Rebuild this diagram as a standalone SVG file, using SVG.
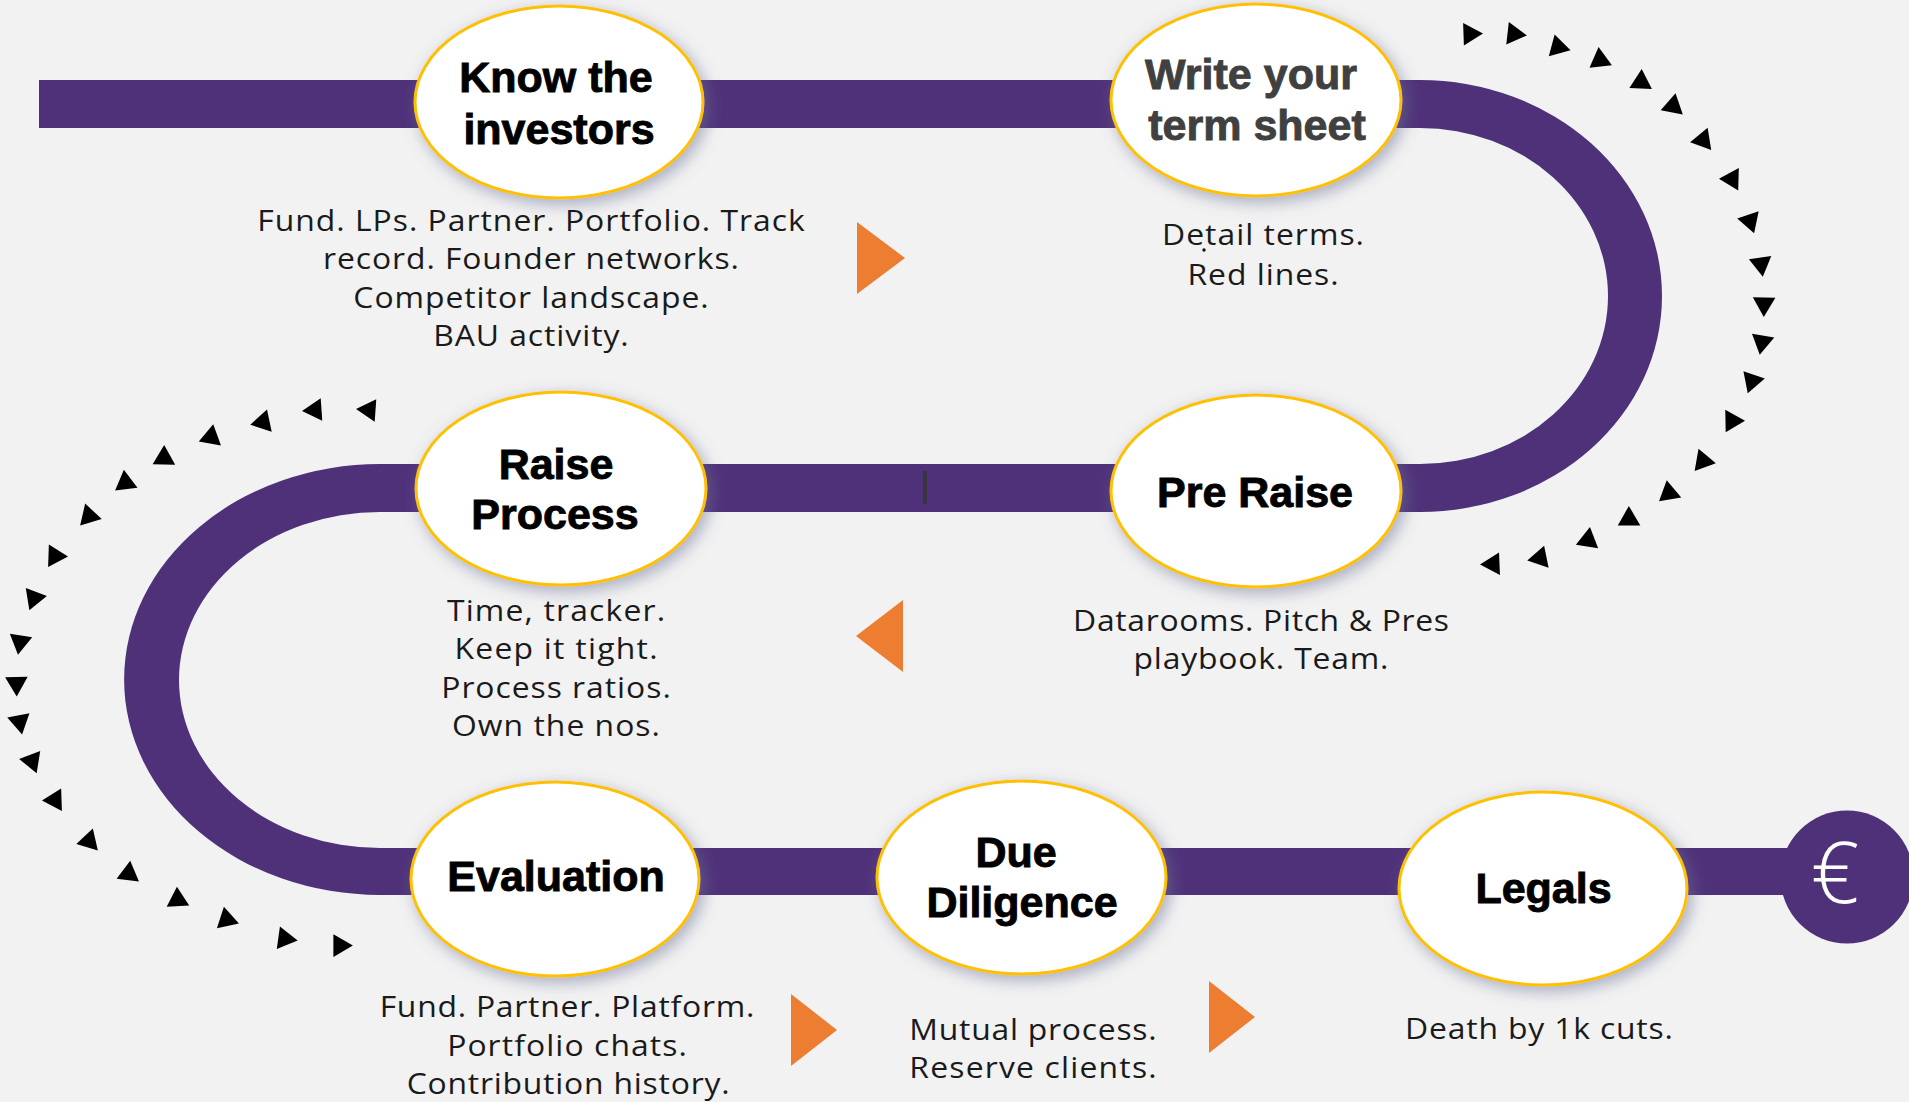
<svg xmlns="http://www.w3.org/2000/svg" xmlns:xlink="http://www.w3.org/1999/xlink" width="1909" height="1102" viewBox="0 0 1909 1102">
<defs>
<style>
.bar{fill:#4F3179}
.node{fill:#FFFFFF;stroke:#FFC000;stroke-width:3}
.h{font-family:"Liberation Sans",Arial,sans-serif;font-weight:bold;font-size:43px;fill:#000;stroke:#000;stroke-width:0.9;text-anchor:middle}
.d{font-family:"Open Sans","Liberation Sans",sans-serif;font-weight:400;font-size:29.5px;fill:#1a1a1a;text-anchor:middle}
.orange{fill:#ED7D31}
.arr{fill:#000}
</style>
<filter id="glow" x="-30%" y="-30%" width="160%" height="160%">
<feGaussianBlur in="SourceAlpha" stdDeviation="8"/>
<feOffset dx="4" dy="5" result="b"/>
<feFlood flood-color="#6C7396" flood-opacity="0.55"/>
<feComposite in2="b" operator="in"/>
<feMerge><feMergeNode/><feMergeNode in="SourceGraphic"/></feMerge>
</filter>
<path id="tri" d="M13,0 L-6.5,11.3 L-6.5,-11.3 Z"/>
</defs>
<rect x="0" y="0" width="1909" height="1102" fill="#F2F2F2"/>

<g id="connectors">
<rect class="bar" x="39" y="80" width="1382" height="48"/>
<path class="bar" d="M1420,80 A242,216 0 0 1 1420,512 L1420,464 A188,168 0 0 0 1420,128 Z"/>
<rect class="bar" x="379" y="464" width="1042" height="48"/>
<path class="bar" d="M380,464 A256,215.5 0 0 0 380,895 L380,848 A201,168 0 0 1 380,512 Z"/>
<rect class="bar" x="379" y="848" width="1467" height="47"/>
<rect x="923" y="471" width="4" height="33" fill="#333" opacity="0.8"/>
<g class="arr">
<use href="#tri" transform="translate(1470,34) rotate(-2)"/>
<use href="#tri" transform="translate(1514,34) rotate(6.5)"/>
<use href="#tri" transform="translate(1558,47) rotate(15)"/>
<use href="#tri" transform="translate(1600,60) rotate(23.6)"/>
<use href="#tri" transform="translate(1641,82) rotate(33)"/>
<use href="#tri" transform="translate(1673,106) rotate(41)"/>
<use href="#tri" transform="translate(1703,140) rotate(50.7)"/>
<use href="#tri" transform="translate(1732,179) rotate(61.4)"/>
<use href="#tri" transform="translate(1750,221) rotate(71.6)"/>
<use href="#tri" transform="translate(1761,264) rotate(82)"/>
<use href="#tri" transform="translate(1764,304) rotate(91)"/>
<use href="#tri" transform="translate(1762,342) rotate(100)"/>
<use href="#tri" transform="translate(1752,381) rotate(109)"/>
<use href="#tri" transform="translate(1732,421) rotate(119)"/>
<use href="#tri" transform="translate(1703,461) rotate(130)"/>
<use href="#tri" transform="translate(1669,493) rotate(140)"/>
<use href="#tri" transform="translate(1629,519) rotate(149.5)"/>
<use href="#tri" transform="translate(1588,540) rotate(158.7)"/>
<use href="#tri" transform="translate(1540,558) rotate(168.6)"/>
<use href="#tri" transform="translate(1493,564) rotate(177.6)"/>

<use href="#tri" transform="translate(369,410) rotate(184)"/>
<use href="#tri" transform="translate(315,410) rotate(176)"/>
<use href="#tri" transform="translate(263,422) rotate(168)"/>
<use href="#tri" transform="translate(211,437) rotate(160)"/>
<use href="#tri" transform="translate(164,458) rotate(151)"/>
<use href="#tri" transform="translate(125.5,482.6) rotate(143)"/>
<use href="#tri" transform="translate(89,516) rotate(133)"/>
<use href="#tri" transform="translate(55,556) rotate(122)"/>
<use href="#tri" transform="translate(34,598) rotate(111)"/>
<use href="#tri" transform="translate(20,642) rotate(99)"/>
<use href="#tri" transform="translate(16.5,683.5) rotate(89)"/>
<use href="#tri" transform="translate(19.6,721.7) rotate(79)"/>
<use href="#tri" transform="translate(32,761) rotate(69)"/>
<use href="#tri" transform="translate(55,800) rotate(58)"/>
<use href="#tri" transform="translate(89,841) rotate(47)"/>
<use href="#tri" transform="translate(128.6,873.7) rotate(37)"/>
<use href="#tri" transform="translate(177.6,899.7) rotate(27)"/>
<use href="#tri" transform="translate(226.6,919.6) rotate(18)"/>
<use href="#tri" transform="translate(284.8,938.7) rotate(8)"/>
<use href="#tri" transform="translate(339.9,945.6) rotate(0)"/>
</g>
<g class="orange">
<polygon points="857,222 905,258 857,294"/>
<polygon points="903,600 856,636 903,672"/>
<polygon points="791,994 837,1030 791,1066"/>
<polygon points="1209,981 1255,1017 1209,1053"/>
</g>
</g>

<g id="node-know">
<ellipse class="node" filter="url(#glow)" cx="559" cy="102" rx="144" ry="96"/>
<text class="h" x="556" y="92">Know the</text>
<text class="h" x="559" y="144">investors</text>
<g class="d" transform="translate(531,0) scale(1.08,1)">
<text x="0" y="231" textLength="507" lengthAdjust="spacing">Fund. LPs. Partner. Portfolio. Track</text>
<text x="0" y="269.5" textLength="385" lengthAdjust="spacing">record. Founder networks.</text>
<text x="0" y="308" textLength="329" lengthAdjust="spacing">Competitor landscape.</text>
<text x="0" y="346" textLength="181" lengthAdjust="spacing">BAU activity.</text>
</g>
</g>

<g id="node-term">
<ellipse class="node" filter="url(#glow)" cx="1256" cy="100" rx="145" ry="96"/>
<text class="h" x="1251" y="89" style="fill:#404040;stroke:#404040">Write your</text>
<text class="h" x="1257" y="140" style="fill:#404040;stroke:#404040">term sheet</text>
<g class="d" transform="translate(1263,0) scale(1.08,1)">
<text x="0" y="245" textLength="187" lengthAdjust="spacing">Detail terms.</text>
<text x="0" y="285" textLength="140" lengthAdjust="spacing">Red lines.</text>
</g>
<circle cx="1204" cy="250" r="1.7" fill="#111"/>
</g>

<g id="node-preraise">
<ellipse class="node" filter="url(#glow)" cx="1256" cy="491" rx="145" ry="96"/>
<text class="h" x="1255" y="507">Pre Raise</text>
<g class="d" transform="translate(1261,0) scale(1.08,1)">
<text x="0" y="631" textLength="348" lengthAdjust="spacing">Datarooms. Pitch &amp; Pres</text>
<text x="0" y="669" textLength="236" lengthAdjust="spacing">playbook. Team.</text>
</g>
</g>

<g id="node-raise">
<ellipse class="node" filter="url(#glow)" cx="561" cy="488.5" rx="145" ry="96.5"/>
<text class="h" x="556" y="479">Raise</text>
<text class="h" x="555" y="528.5">Process</text>
<g class="d" transform="translate(556,0) scale(1.08,1)">
<text x="0" y="621.5" textLength="202" lengthAdjust="spacing">Time, tracker.</text>
<text x="0" y="659.5" textLength="188" lengthAdjust="spacing">Keep it tight.</text>
<text x="0" y="698" textLength="212.5" lengthAdjust="spacing">Process ratios.</text>
<text x="0" y="736" textLength="192.5" lengthAdjust="spacing">Own the nos.</text>
</g>
</g>

<g id="node-evaluation">
<ellipse class="node" filter="url(#glow)" cx="555" cy="879" rx="144" ry="97"/>
<text class="h" x="556" y="891">Evaluation</text>
<g class="d" transform="translate(567,0) scale(1.08,1)">
<text x="0" y="1017" textLength="347" lengthAdjust="spacing">Fund. Partner. Platform.</text>
<text x="0" y="1056" textLength="222" lengthAdjust="spacing">Portfolio chats.</text>
<text x="1" y="1094" textLength="299" lengthAdjust="spacing">Contribution history.</text>
</g>
</g>

<g id="node-due">
<ellipse class="node" filter="url(#glow)" cx="1021.5" cy="877.5" rx="144.5" ry="96.5"/>
<text class="h" x="1016" y="867">Due</text>
<text class="h" x="1022" y="917">Diligence</text>
<g class="d" transform="translate(1033,0) scale(1.08,1)">
<text x="0" y="1040" textLength="229" lengthAdjust="spacing">Mutual process.</text>
<text x="0" y="1078" textLength="229" lengthAdjust="spacing">Reserve clients.</text>
</g>
</g>

<g id="node-legals">
<ellipse class="node" filter="url(#glow)" cx="1543" cy="888.5" rx="144" ry="96.5"/>
<text class="h" x="1543.5" y="903">Legals</text>
<g class="d" transform="translate(1539,0) scale(1.08,1)">
<text x="0" y="1039" textLength="248" lengthAdjust="spacing">Death by 1k cuts.</text>
</g>
</g>

<g id="node-euro">
<circle cx="1847" cy="877" r="66.5" fill="#4F3179"/>
<text x="1835" y="903" font-family="'Open Sans','Liberation Sans',sans-serif" font-weight="300" font-size="85" fill="#FFFFFF" text-anchor="middle">€</text>
</g>
</svg>
